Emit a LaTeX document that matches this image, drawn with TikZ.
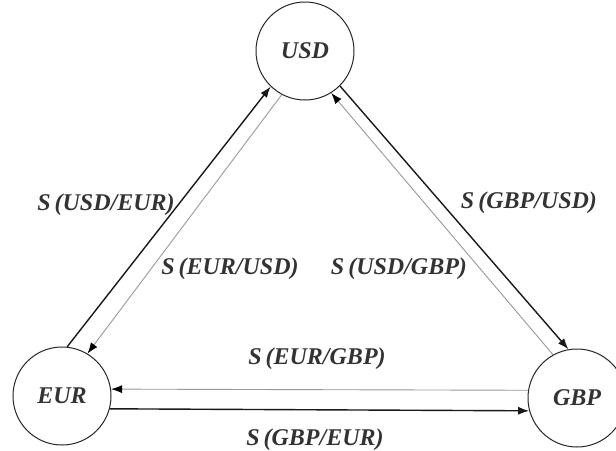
\documentclass[tikz,border=0pt]{standalone}
\usepackage{fontspec}
\setmainfont{Liberation Serif}
\usetikzlibrary{arrows.meta}
\begin{document}
\begin{tikzpicture}[x=1pt,y=-1pt,
  cur/.style={circle,draw=black!85,line width=1pt,minimum size=98pt,inner sep=0pt,
    font=\fontsize{24}{26}\selectfont\bfseries\itshape,text=black!80},
  lbl/.style={font=\fontsize{24}{26}\selectfont\bfseries\itshape,text=black!80,inner sep=0pt},
  darkarr/.style={draw=black!90,line width=1.4pt,-{Latex[length=11pt,width=8pt]}},
  lightarr/.style={draw=black!40,line width=0.9pt,-{Latex[length=11pt,width=8pt,fill=black,color=black]}}]
\useasboundingbox (0,0) rectangle (616,450);
\fill[white] (0,0) rectangle (616,450);
\node[cur] (usd) at (305,51) {USD};
\node[cur] (eur) at (62,396) {EUR};
\node[cur] (gbp) at (577,398) {GBP};
% EUR <-> USD
\draw[darkarr] (eur.84) -- (usd.226.5);
\draw[lightarr] (usd.242) -- (eur.59);
% USD <-> GBP
\draw[darkarr] (usd.315) -- (gbp.100);
\draw[lightarr] (gbp.119) -- (usd.302);
% GBP <-> EUR
\draw[lightarr] (gbp.171) -- (eur.8);
\draw[darkarr] (eur.-15) -- (gbp.195);
% labels
\node[lbl] (l1) at (106,205) {S\,(USD/EUR)};
\node[lbl] (l2) at (230,269) {S\,(EUR/USD)};
\node[lbl] (l3) at (529,203) {S\,(GBP/USD)};
\node[lbl] (l4) at (399,269) {S\,(USD/GBP)};
\node[lbl] (l5) at (317,359) {S\,(EUR/GBP)};
\node[lbl] (l6) at (315,440) {S\,(GBP/EUR)};
\end{tikzpicture}
\end{document}
